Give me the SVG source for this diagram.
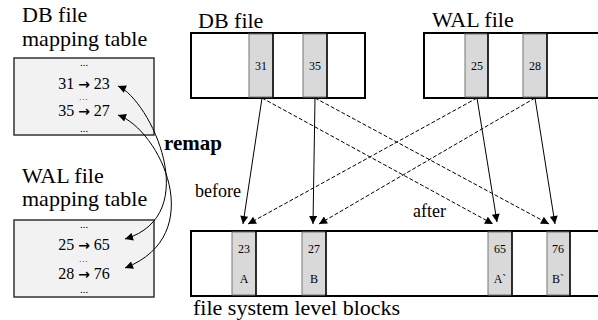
<svg xmlns="http://www.w3.org/2000/svg" width="598" height="320" viewBox="0 0 598 320">
  <style>
    text { font-family: "Liberation Serif", "Times New Roman", serif; fill: #000; }
    .title { font-size: 22px; }
    .entry { font-size: 16px; }
    .arrow { font-family: "DejaVu Sans", sans-serif; font-weight: bold; font-size: 14px; }
    .dots { font-size: 11px; }
    .dots-mid { font-size: 8px; letter-spacing: 1.2px; }
    .cellno { font-size: 12px; }
    .tag { font-size: 18px; }
    .bold { font-size: 21px; font-weight: bold; }
    .table { fill: #f2f2f2; stroke: #333; stroke-width: 1.5; }
    .outer { fill: #fff; stroke: #000; stroke-width: 2; }
    .cell { fill: #d9d9d9; stroke: #777; stroke-width: 1; }
    .sep { stroke: #000; stroke-width: 1.5; }
    .solid { fill: none; stroke: #000; stroke-width: 1; }
    .dashed { fill: none; stroke: #000; stroke-width: 1; stroke-dasharray: 4 2; }
    .curve { fill: none; stroke: #000; stroke-width: 1; }
  </style>
  <defs>
    <marker id="head" viewBox="0 0 10 10" refX="10" refY="5" markerWidth="9" markerHeight="8" markerUnits="userSpaceOnUse" orient="auto">
      <path d="M0,0 L10,5 L0,10 Z" fill="#000"/>
    </marker>
    <marker id="headStart" viewBox="0 0 10 10" refX="0" refY="5" markerWidth="9" markerHeight="8" markerUnits="userSpaceOnUse" orient="auto">
      <path d="M10,0 L0,5 L10,10 Z" fill="#000"/>
    </marker>
  </defs>
  <rect width="598" height="320" fill="#fff"/>

  <!-- DB file mapping table -->
  <g id="db-map">
    <text class="title" x="22" y="22">DB file</text>
    <text class="title" x="22" y="46">mapping table</text>
    <rect class="table" x="14" y="58" width="140" height="77"/>
    <text class="dots" x="84" y="66" text-anchor="middle">...</text>
    <text class="entry" x="84" y="89" text-anchor="middle">31 <tspan class="arrow">→</tspan> 23</text>
    <text class="dots-mid" x="84" y="99.5" text-anchor="middle">...</text>
    <text class="entry" x="84" y="116" text-anchor="middle">35 <tspan class="arrow">→</tspan> 27</text>
    <text class="dots" x="84" y="132" text-anchor="middle">...</text>
  </g>

  <!-- WAL file mapping table -->
  <g id="wal-map">
    <text class="title" x="22" y="183">WAL file</text>
    <text class="title" x="22" y="206">mapping table</text>
    <rect class="table" x="14" y="220" width="140" height="77"/>
    <text class="dots" x="84" y="228" text-anchor="middle">...</text>
    <text class="entry" x="84" y="250" text-anchor="middle">25 <tspan class="arrow">→</tspan> 65</text>
    <text class="dots-mid" x="84" y="261.5" text-anchor="middle">...</text>
    <text class="entry" x="84" y="279" text-anchor="middle">28 <tspan class="arrow">→</tspan> 76</text>
    <text class="dots" x="84" y="293" text-anchor="middle">...</text>
  </g>

  <!-- DB file blocks -->
  <g id="db-file">
    <text class="title" x="198" y="28">DB file</text>
    <rect class="outer" x="191" y="33" width="174" height="65"/>
    <rect class="cell" x="249" y="34" width="24" height="63"/>
    <line class="sep" x1="273" y1="33" x2="273" y2="98"/>
    <text class="cellno" x="261" y="70" text-anchor="middle">31</text>
    <rect class="cell" x="303" y="34" width="24" height="63"/>
    <line class="sep" x1="327" y1="33" x2="327" y2="98"/>
    <text class="cellno" x="315" y="70" text-anchor="middle">35</text>
  </g>

  <!-- WAL file blocks -->
  <g id="wal-file">
    <text class="title" x="432" y="27">WAL file</text>
    <rect class="outer" x="424" y="33" width="180" height="65"/>
    <rect class="cell" x="465" y="34" width="23" height="63"/>
    <line class="sep" x1="488" y1="33" x2="488" y2="98"/>
    <text class="cellno" x="477" y="70" text-anchor="middle">25</text>
    <rect class="cell" x="523" y="34" width="24" height="63"/>
    <line class="sep" x1="547" y1="33" x2="547" y2="98"/>
    <text class="cellno" x="535" y="70" text-anchor="middle">28</text>
  </g>

  <!-- file system level blocks -->
  <g id="fs-blocks">
    <rect class="outer" x="191" y="231" width="413" height="65"/>
    <rect class="cell" x="232" y="232" width="24" height="63"/>
    <line class="sep" x1="256" y1="231" x2="256" y2="296"/>
    <text class="cellno" x="244" y="253" text-anchor="middle">23</text>
    <text class="cellno" x="244" y="283" text-anchor="middle">A</text>
    <rect class="cell" x="302" y="232" width="24" height="63"/>
    <line class="sep" x1="326" y1="231" x2="326" y2="296"/>
    <text class="cellno" x="314" y="253" text-anchor="middle">27</text>
    <text class="cellno" x="314" y="283" text-anchor="middle">B</text>
    <rect class="cell" x="488" y="232" width="24" height="63"/>
    <line class="sep" x1="512" y1="231" x2="512" y2="296"/>
    <text class="cellno" x="500" y="253" text-anchor="middle">65</text>
    <text class="cellno" x="500" y="283" text-anchor="middle">A`</text>
    <rect class="cell" x="547" y="232" width="23" height="63"/>
    <line class="sep" x1="570" y1="231" x2="570" y2="296"/>
    <text class="cellno" x="558" y="253" text-anchor="middle">76</text>
    <text class="cellno" x="558" y="283" text-anchor="middle">B`</text>
    <text class="title" x="193" y="315">file system level blocks</text>
  </g>

  <!-- labels -->
  <text class="bold" x="164" y="150">remap</text>
  <text class="tag" x="195" y="197">before</text>
  <text class="tag" x="413" y="217">after</text>

  <!-- connectors -->
  <g id="connectors">
    <!-- before: solid -->
    <line class="solid" x1="262" y1="98" x2="243" y2="224" marker-end="url(#head)"/>
    <line class="solid" x1="315" y1="98" x2="313" y2="224" marker-end="url(#head)"/>
    <line class="solid" x1="477" y1="98" x2="497" y2="222" marker-end="url(#head)"/>
    <line class="solid" x1="535" y1="98" x2="555" y2="224" marker-end="url(#head)"/>
    <!-- after: dashed -->
    <line class="dashed" x1="262" y1="98" x2="493" y2="224" marker-end="url(#head)"/>
    <line class="dashed" x1="315" y1="98" x2="549" y2="224" marker-end="url(#head)"/>
    <line class="dashed" x1="477" y1="98" x2="248" y2="224" marker-end="url(#head)"/>
    <line class="dashed" x1="535" y1="98" x2="319" y2="224" marker-end="url(#head)"/>
    <!-- remap curves between the tables -->
    <path class="curve" d="M118,86 C150,100 205,215 125,239" marker-start="url(#headStart)" marker-end="url(#head)"/>
    <path class="curve" d="M118,115 C160,130 210,235 125,268" marker-start="url(#headStart)" marker-end="url(#head)"/>
  </g>
</svg>
